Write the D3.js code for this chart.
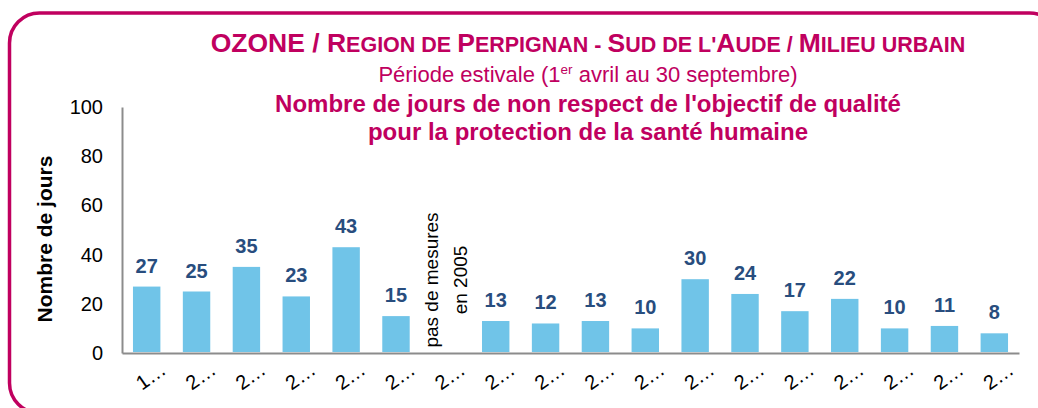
<!DOCTYPE html>
<html>
<head>
<meta charset="utf-8">
<script src="https://cdn.jsdelivr.net/npm/d3@7"></script>
<style>
  body { margin: 0; background: #fff; }
  svg { font-family: "Liberation Sans", Arial, sans-serif; }
</style>
</head>
<body>
<div id="chart"></div>
<script>
// Data
const years = ["1999", "2000", "2001", "2002", "2003", "2004", "2005", "2006", "2007",
               "2008", "2009", "2010", "2011", "2012", "2013", "2014", "2015", "2016"];
const days = [27, 25, 35, 23, 43, 15, null, 13, 12, 13, 10, 30, 24, 17, 22, 10, 11, 8];
const yTicks = [0, 20, 40, 60, 80, 100];

// Title pieces: [text, isCapital] for the small caps heading
const titleParts = [
    ["OZONE / R", true], ["EGION DE ", false], ["P", true], ["ERPIGNAN - ", false],
    ["S", true], ["UD DE L'", false], ["A", true], ["UDE / ", false],
    ["M", true], ["ILIEU URBAIN", false]
];

const W = 1038, H = 408;
const magenta = "#c0005f";

const svg = d3.select("#chart").append("svg")
    .attr("width", W)
    .attr("height", H);

// Rounded frame
svg.append("rect")
    .attr("x", 9.5).attr("y", 13)
    .attr("width", 1050).attr("height", 400)
    .attr("rx", 30).attr("ry", 30)
    .attr("fill", "none")
    .attr("stroke", magenta)
    .attr("stroke-width", 3.5);

// Titles
const title = svg.append("text")
    .attr("x", 588).attr("y", 52)
    .attr("text-anchor", "middle")
    .style("font-weight", "bold")
    .attr("fill", magenta);
titleParts.forEach(p => {
    title.append("tspan")
        .style("font-size", p[1] ? "26.5px" : "21.5px")
        .text(p[0]);
});

const sub = svg.append("text")
    .attr("x", 588).attr("y", 82)
    .attr("text-anchor", "middle")
    .style("font-size", "22px")
    .attr("fill", magenta);
sub.append("tspan").text("Période estivale (1");
sub.append("tspan").attr("dy", -8).style("font-size", "13.5px").text("er");
sub.append("tspan").attr("dy", 8).text(" avril au 30 septembre)");

svg.append("text")
    .attr("x", 588).attr("y", 112)
    .attr("text-anchor", "middle")
    .style("font-size", "24px")
    .style("font-weight", "bold")
    .attr("fill", magenta)
    .text("Nombre de jours de non respect de l'objectif de qualité");

svg.append("text")
    .attr("x", 588).attr("y", 140)
    .attr("text-anchor", "middle")
    .style("font-size", "24px")
    .style("font-weight", "bold")
    .attr("fill", magenta)
    .text("pour la protection de la santé humaine");

// Scales
const x = d3.scaleBand()
    .domain(years)
    .range([122, 1019])
    .paddingInner(0.45)
    .paddingOuter(0.22);

const y = d3.scaleLinear()
    .domain([0, 100])
    .range([353, 107]);

// Y axis
const yAxis = svg.append("g")
    .attr("transform", "translate(122,0)")
    .call(d3.axisLeft(y).tickValues(yTicks).tickSize(0).tickPadding(19));
yAxis.select(".domain").attr("stroke", "#8c8c8c").attr("stroke-width", 2);
yAxis.selectAll("text")
    .style("font-size", "20px")
    .style("font-family", "Liberation Sans, Arial, sans-serif")
    .attr("fill", "#000");

// X axis (labels are truncated in the original)
const xAxis = svg.append("g")
    .attr("transform", `translate(0,${y(0)})`)
    .call(d3.axisBottom(x).tickSize(0).tickFormat(d => d.charAt(0) + "\u2026"));
xAxis.select(".domain").attr("stroke", "#8c8c8c").attr("stroke-width", 2);
xAxis.selectAll("text")
    .style("font-size", "20px")
    .style("font-family", "Liberation Sans, Arial, sans-serif")
    .attr("fill", "#000")
    .attr("text-anchor", "middle")
    .attr("y", 0)
    .attr("dy", "0.35em")
    .attr("transform", "translate(4,23) rotate(-35)");

// Y axis label
svg.append("text")
    .attr("transform", `translate(52,${(y(0) + y(100)) / 2 + 9}) rotate(-90)`)
    .attr("text-anchor", "middle")
    .style("font-size", "21px")
    .style("font-weight", "bold")
    .text("Nombre de jours");

// Bars
const data = years.map((yr, i) => ({ year: yr, value: days[i] }));
const withValue = data.filter(d => d.value !== null);

svg.selectAll("rect.bar")
    .data(withValue)
    .enter().append("rect")
    .attr("class", "bar")
    .attr("x", d => x(d.year))
    .attr("y", d => y(d.value))
    .attr("width", x.bandwidth())
    .attr("height", d => y(0) - y(d.value) - 1)
    .attr("fill", "#70c4e8");

// Value labels
svg.selectAll("text.val")
    .data(withValue)
    .enter().append("text")
    .attr("class", "val")
    .attr("x", d => x(d.year) + x.bandwidth() / 2)
    .attr("y", d => y(d.value) - 14)
    .attr("text-anchor", "middle")
    .style("font-size", "20px")
    .style("font-weight", "bold")
    .attr("fill", "#284d7e")
    .text(d => d.value);

// Note for the missing year
const missing = data.filter(d => d.value === null);
missing.forEach(d => {
    const cx = x(d.year) + x.bandwidth() / 2;
    const note = svg.append("text")
        .attr("transform", `translate(${cx},280) rotate(-90)`)
        .attr("text-anchor", "middle")
        .style("font-size", "19px")
        .attr("fill", "#000");
    note.append("tspan").attr("x", 0).attr("y", -8).text("pas de mesures");
    note.append("tspan").attr("x", 0).attr("y", 21).text("en " + d.year);
});
</script>
</body>
</html>
